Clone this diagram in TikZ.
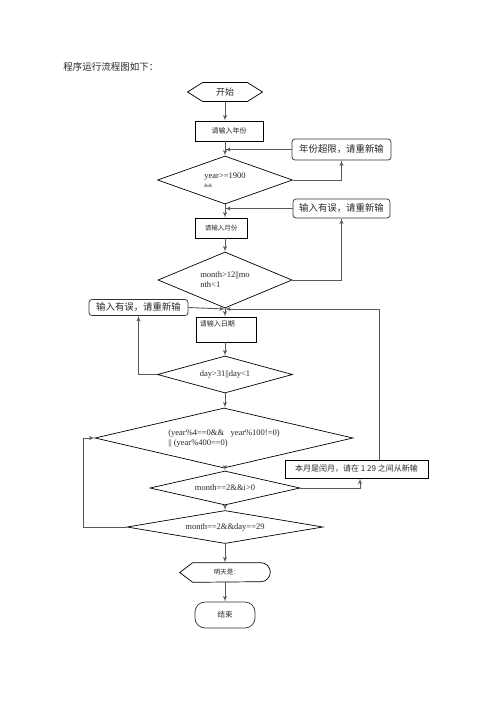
\documentclass[tikz,border=0pt]{standalone}
\usepackage{fontspec}
\setmainfont{Liberation Serif}
\newfontfamily\cjk{Noto Sans CJK SC}
\usetikzlibrary{arrows,positioning,shapes.geometric,shapes.symbols}

\begin{document}
\begin{tikzpicture}[->,>=latex',x=1pt,y=-1pt,semithick]
  \tikzstyle{every node}=[inner sep=0pt,text=black!85]
  \tikzstyle{box}=[draw=black,line width=0.7pt,rectangle]
  \tikzstyle{msg}=[draw=black!80,line width=0.7pt,rounded corners=3pt]
  \tikzstyle{test}=[draw=black,line width=0.7pt,diamond,align=left,font=\fontsize{8.5}{10}\selectfont]
  \tikzstyle{link}=[draw=black!65,line width=0.9pt]

  \useasboundingbox (0,0) rectangle (496,702);

  \node[anchor=west,font=\cjk\fontsize{9.5}{11}\selectfont] (title) at (63,67) {程序运行流程图如下：};

  \node[signal,signal to=west and east,signal pointer angle=64,draw=black,line width=0.7pt,
        minimum width=75pt,minimum height=19pt,font=\cjk\fontsize{9}{10}\selectfont] (start) at (225,92) {开始};
  \node[box,minimum width=68pt,minimum height=20pt,font=\cjk\fontsize{7}{8}\selectfont] (year) at (229,131) {请输入年份};
  \node[msg,minimum width=99pt,minimum height=21pt,font=\cjk\fontsize{9.4}{11}\selectfont] (yerr) at (341.5,149.5) {年份超限，请重新输};
  \node[test,aspect=2.8,minimum width=135pt,minimum height=48pt] (ytest) at (225,180) {year>=1900\\[-1pt]{\tiny\&\&}};
  \node[msg,minimum width=97pt,minimum height=19pt,font=\cjk\fontsize{9.4}{11}\selectfont] (merr) at (341.5,208.5) {输入有误，请重新输};
  \node[box,minimum width=52pt,minimum height=20pt,font=\cjk\fontsize{6.5}{8}\selectfont] (month) at (221,228) {请输入月份};
  \node[test,aspect=2.4,minimum width=134pt,minimum height=56pt] (mtest) at (225,280) {month>12||mo\\nth<1};
  \node[msg,minimum width=99pt,minimum height=16pt,font=\cjk\fontsize{9.4}{11}\selectfont] (derr) at (138.5,307.5) {输入有误，请重新输};
  \coordinate (join) at (225,309);
  \node[box,minimum width=60pt,minimum height=25pt,
        label={[anchor=north west,xshift=4pt,yshift=-4pt,font=\cjk\fontsize{7}{8}\selectfont]north west:请输入日期}] (day) at (226,329.5) {};
  \node[test,aspect=3.6,minimum width=135pt,minimum height=37pt] (dtest) at (225,374.5) {day>31||day<1};
  \node[test,aspect=4.3,minimum width=258pt,minimum height=60pt] (leap) at (224,438) {(year\%4==0\&\&\ \ \ year\%100!=0)\\|| (year\%400==0)};
  \node[box,minimum width=143pt,minimum height=18pt,font=\cjk\fontsize{8}{9}\selectfont] (lerr) at (356.5,469) {本月是闰月，请在 1 29 之间从新输};
  \node[test,aspect=4.4,minimum width=150pt,minimum height=34pt] (feb) at (225,488) {month==2\&\&i>0};
  \node[test,aspect=6,minimum width=196pt,minimum height=33pt] (d29) at (225,527) {month==2\&\&day==29};
  \coordinate (back) at (83,527);
  \node[minimum width=67.5pt,minimum height=19pt,font=\cjk\fontsize{6.5}{8}\selectfont] (tomorrow) at (226.75,572.5) {明天是：};
  \draw[-,draw=black,line width=0.7pt] ([xshift=-13pt]tomorrow.west) -- (tomorrow.north west) -- (tomorrow.north east)
    arc[start angle=90,end angle=-90,radius=9.5pt] -- (tomorrow.south west) -- cycle;
  \node[msg,rounded corners=10pt,minimum width=60pt,minimum height=26pt,font=\cjk\fontsize{7.5}{9}\selectfont] (stop) at (225,615) {结束};

  % main line
  \draw[link] (start.south) -- (start.south |- year.north);
  \draw[link] (year.south -| ytest.north) -- (ytest.north);
  \draw[link] (yerr.west) -- (yerr.west -| ytest.north);
  \draw[link] (ytest.east) -| (yerr.south);
  \draw[link] (ytest.south) -- (ytest.south |- month.north);
  \draw[link] (merr.west) -- (merr.west -| ytest.south);
  \draw[link] (month.south -| mtest.north) -- (mtest.north);
  \draw[link] (mtest.east) -| (merr.south);
  \draw[link] (mtest.south) -- (mtest.south |- day.north);
  \draw[link] (derr.east) -- (join);
  \draw[link] ([xshift=22.5pt]lerr.north) |- (join);
  \draw[link] (day.south -| dtest.north) -- (dtest.north);
  \draw[link] (dtest.west) -| (derr.south);
  \draw[link] (dtest.south) -- (dtest.south |- leap.north);
  \draw[link] (leap.south -| feb.north) -- (feb.north);
  \draw[link] (feb.east) -| ([xshift=3.5pt]lerr.south);
  \draw[link] (feb.south) -- (d29.north);
  \draw[link] (d29.west) -- (back) |- (leap.west);
  \draw[link] (d29.south) -- (d29.south |- tomorrow.north);
  \draw[link] (d29.south |- tomorrow.south) -- (stop.north);
\end{tikzpicture}
\end{document}
